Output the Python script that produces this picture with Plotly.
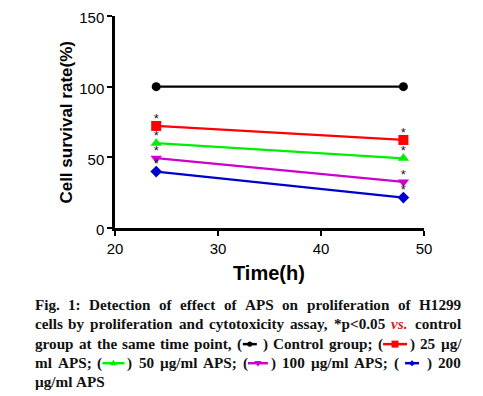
import plotly.graph_objects as go

# ---- data ----
time_h = [24, 48]
control = [100, 100]
aps25 = [72.2, 62.3]
aps50 = [60.0, 49.3]
aps100 = [49.4, 32.6]
aps200 = [39.9, 21.5]
sig_25 = ["*", "*"]
sig_50 = ["*", "*"]
sig_100 = ["*", "*"]
sig_200 = ["*", "*"]
x_ticks = [20, 30, 40, 50]
y_ticks = [0, 50, 100, 150]

series = [
    ("Control group", control, None, "#000000", "circle", 9),
    ("25 µg/ml APS", aps25, sig_25, "#ff0000", "square", 10),
    ("50 µg/ml APS", aps50, sig_50, "#00ee00", "triangle-up", 10),
    ("100 µg/ml APS", aps100, sig_100, "#cc00cc", "triangle-down", 10),
    ("200 µg/ml APS", aps200, sig_200, "#0000cc", "diamond", 9),
]

OFF = 8  # page body margin
W, H = 483 - OFF, 396 - OFF
L, R, T, B = 114.5 - OFF, 59, 16.3 - OFF, 168.3
PW, PH = W - L - R, H - T - B

def px(x):
    return (x - OFF - L) / PW

def py(y):
    return (H - B - (y - OFF)) / PH

fig = go.Figure()
for name, vals, sig, col, sym, sz in series:
    fig.add_trace(go.Scatter(
        x=time_h, y=vals, name=name, mode="lines+markers",
        line=dict(color=col, width=2.2),
        marker=dict(color=col, symbol=sym, size=sz, line=dict(width=0)),
        cliponaxis=False,
    ))
for name, vals, sig, col, sym, sz in series:
    if sig:
        fig.add_trace(go.Scatter(
            x=time_h, y=vals, mode="text", text=sig, textposition="top center",
            textfont=dict(family="Liberation Sans", size=13, color="#222"),
            cliponaxis=False, hoverinfo="skip",
        ))

tickfont = dict(family="Liberation Sans", size=15, color="#000")
axis_common = dict(showline=True, linecolor="#000", linewidth=2.5,
                   ticks="outside", ticklen=5, tickwidth=2, tickcolor="#000",
                   showgrid=False, zeroline=False, tickfont=tickfont,
                   ticklabeloverflow="allow", automargin=False,
                   tickprefix="<b>", ticksuffix="</b>")
fig.update_xaxes(range=[20, 50], tickvals=x_ticks, **axis_common)
fig.update_yaxes(range=[0, 150], tickvals=y_ticks, ticklabelshift=2, **axis_common)

ann = []
shapes = []
ann.append(dict(text="<b>Time(h)</b>", x=px(269), y=py(273), xref="paper", yref="paper",
                showarrow=False, font=dict(family="Liberation Sans", size=20, color="#000"),
                xanchor="center", yanchor="middle"))
ann.append(dict(text="<b>Cell survival rate(%)</b>", x=px(65), y=py(122), xref="paper", yref="paper",
                showarrow=False, textangle=-90,
                font=dict(family="Liberation Sans", size=17, color="#000"),
                xanchor="center", yanchor="middle"))

# ---- caption (justified, Times-Bold metrics) ----
FS = 15.2
TB = {' ': 250, '(': 333, ')': 333, '*': 500, ',': 250, '-': 333, '.': 250, '/': 278,
      ':': 333, ';': 333, '<': 570, 'µ': 556,
      'A': 722, 'C': 722, 'D': 722, 'F': 611, 'H': 778, 'P': 611, 'S': 556,
      'a': 500, 'b': 556, 'c': 444, 'd': 556, 'e': 444, 'f': 333, 'g': 500, 'h': 556,
      'i': 278, 'j': 333, 'k': 556, 'l': 278, 'm': 833, 'n': 556, 'o': 500, 'p': 556,
      'q': 556, 'r': 444, 's': 389, 't': 333, 'u': 556, 'v': 500, 'w': 722, 'x': 500,
      'y': 500, 'z': 444}
for d in "0123456789":
    TB[d] = 500

def tw(s):
    return sum(TB.get(c, 500) for c in s) * FS / 1000.0

SYMS = {
    "ctrl": ("#000000", "circle", 14, 5),
    "a25": ("#ff0000", "square", 24, 7),
    "a50": ("#00ee00", "tri", 22, 7),
    "a100": ("#cc00cc", "tridown", 20, 7),
    "a200": ("#0000cc", "diamond", 14, 6),
}

def paren(key, lpad=1, rpad=2):
    return [("t", "("), ("g", lpad), ("s", key), ("g", rpad), ("t", ")")]

cap_lines = [
    [[("t", w)] for w in "Fig. 1: Detection of effect of APS on proliferation of H1299".split()],
    [[("t", w)] for w in "cells by proliferation and cytotoxicity assay, *p<0.05".split()]
    + [[("r", "vs.")], [("t", "control")]],
    [[("t", w)] for w in "group at the same time point,".split()]
    + [paren("ctrl", 2, 5)] + [[("t", w)] for w in "Control group;".split()]
    + [paren("a25")] + [[("t", w)] for w in "25 µg/".split()],
    [[("t", w)] for w in "ml APS;".split()] + [paren("a50")]
    + [[("t", w)] for w in "50 µg/ml APS;".split()] + [paren("a100")]
    + [[("t", w)] for w in "100 µg/ml APS;".split()] + [paren("a200", 7, 7)]
    + [[("t", "200")]],
    [[("t", w)] for w in "µg/ml APS".split()],
]
cap_y = [304, 323, 343, 362, 381]
X0, X1 = 33, 460

def seg_w(seg):
    k, v = seg
    if k in ("t", "r"):
        return tw(v)
    if k == "g":
        return v
    return SYMS[v][2]

def add_sym(key, x0, yc):
    col, kind, ln, ms = SYMS[key]
    shapes.append(dict(type="line", xref="paper", yref="paper",
                       x0=px(x0), x1=px(x0 + ln), y0=py(yc), y1=py(yc),
                       line=dict(color=col, width=2.5)))
    xc = x0 + ln / 2
    h = ms / 2
    if kind == "circle":
        shapes.append(dict(type="circle", xref="paper", yref="paper",
                           x0=px(xc - h), x1=px(xc + h), y0=py(yc + h), y1=py(yc - h),
                           fillcolor=col, line=dict(width=0)))
    else:
        if kind == "square":
            pts = [(-h, -h), (h, -h), (h, h), (-h, h)]
        elif kind == "tri":
            pts = [(-h, h * 0.6), (h, h * 0.6), (0, -h)]
        elif kind == "tridown":
            pts = [(-h, -h * 0.6), (h, -h * 0.6), (0, h)]
        else:
            pts = [(0, -h), (h, 0), (0, h), (-h, 0)]
        path = "M " + " L ".join(f"{px(xc + a)},{py(yc + b)}" for a, b in pts) + " Z"
        shapes.append(dict(type="path", xref="paper", yref="paper", path=path,
                           fillcolor=col, line=dict(width=0)))

for li, (toks, yc) in enumerate(zip(cap_lines, cap_y)):
    widths = [sum(seg_w(s) for s in tok) for tok in toks]
    justify = li < len(cap_lines) - 1
    if justify and len(toks) > 1:
        gap = (X1 - X0 - sum(widths)) / (len(toks) - 1)
    else:
        gap = tw(" ")
    x = X0
    for tok, w in zip(toks, widths):
        sx = x
        for k, v in tok:
            if k in ("t", "r"):
                txt = v.replace("<", "&lt;")
                if k == "r":
                    txt = f"<span style='color:#e02020'><i>{txt}</i></span>"
                ann.append(dict(text="<b>" + txt + "</b>", x=px(sx - 1), y=py(yc),
                                xref="paper", yref="paper", showarrow=False,
                                xanchor="left", yanchor="middle", align="left",
                                font=dict(family="Liberation Serif", size=FS, color="#111")))
            elif k == "s":
                add_sym(v, sx, yc + 0.5)
            sx += seg_w((k, v))
        x += w + gap

fig.update_layout(
    width=W, height=H, autosize=False,
    margin=dict(l=L, r=R, t=T, b=B, pad=0, autoexpand=False),
    paper_bgcolor="#fff", plot_bgcolor="#fff",
    showlegend=False, annotations=ann, shapes=shapes,
)
fig.write_html("out.html")
